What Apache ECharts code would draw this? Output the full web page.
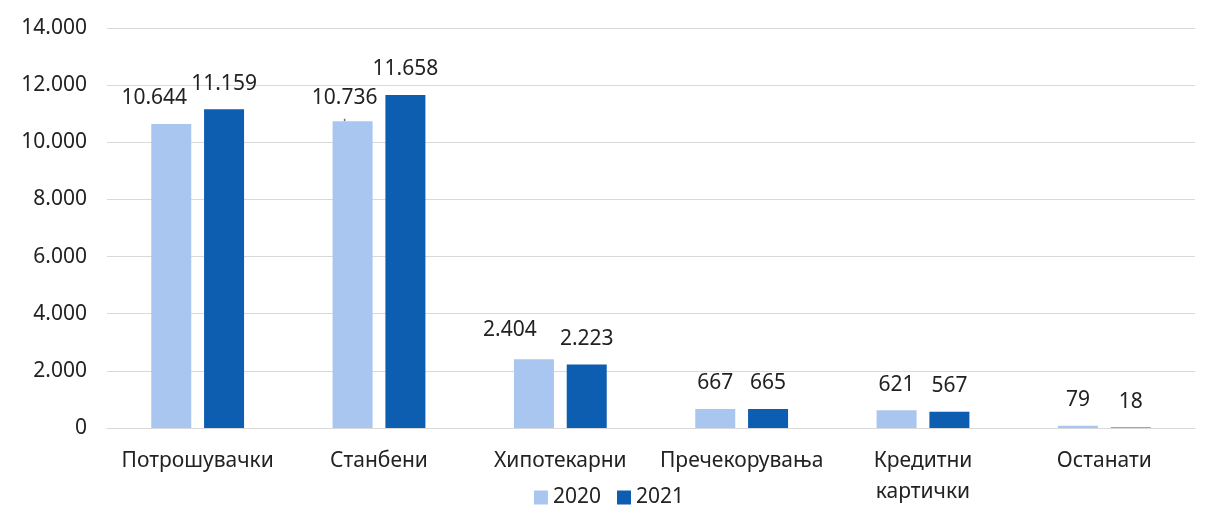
<!DOCTYPE html>
<html>
<head>
<meta charset="utf-8">
<script src="https://cdn.jsdelivr.net/npm/echarts@6/dist/echarts.min.js"></script>
<style>
  html, body { margin: 0; padding: 0; background: #fff; }
  #chart { width: 1218px; height: 531px; }
</style>
</head>
<body>
<div id="chart"></div>
<script>
// Loan categories (Macedonian)
const categories = ['Потрошувачки', 'Станбени', 'Хипотекарни', 'Пречекорувања', 'Кредитни\nкартички', 'Останати'];
const seriesNames = ['2020', '2021'];
const values2020 = [10644, 10736, 2404, 667, 621, 79];
const values2021 = [11159, 11658, 2223, 665, 567, 18];
const yTicks = [0, 2000, 4000, 6000, 8000, 10000, 12000, 14000];

const colors = ['#a9c6f1', '#0d5db0'];
const textColor = '#222222';
const fontFamily = '"Noto Sans", "Open Sans", sans-serif';
const fontSize = 21;

// thousands separated with a dot
function fmt(v) {
  return String(v).replace(/\B(?=(\d{3})+(?!\d))/g, '.');
}

// nudges for crowded labels (by category index), kept apart from the values
const labelShift2020 = { 0: [-17, 0], 1: [-8, 2], 2: [-24, -4] };
const withLeader2020 = { 1: true, 2: true };

function buildData(values, shifts, leaders) {
  return values.map((v, i) => {
    const item = { value: v };
    if (shifts && shifts[i]) item.label = { offset: shifts[i] };
    if (leaders && leaders[i]) item.labelLine = { show: true, lineStyle: { color: '#5f6f8f', width: 1.5 } };
    return item;
  });
}

const labelStyle = {
  show: true,
  position: 'top',
  distance: 15,
  color: textColor,
  fontSize: fontSize,
  fontFamily: fontFamily,
  formatter: p => fmt(p.value)
};

const chart = echarts.init(document.getElementById('chart'));
chart.setOption({
  animation: false,
  color: colors,
  grid: { left: 107, right: 23, top: 28, bottom: 103 },
  legend: {
    bottom: 18,
    left: 'center',
    itemWidth: 14,
    itemHeight: 14,
    itemGap: 16,
    icon: 'rect',
    textStyle: { color: textColor, fontSize: fontSize, fontFamily: fontFamily },
    data: seriesNames
  },
  xAxis: {
    type: 'category',
    data: categories,
    axisLine: { lineStyle: { color: '#d9d9d9', width: 1 } },
    axisTick: { show: false },
    axisLabel: {
      color: textColor,
      fontSize: fontSize,
      fontFamily: fontFamily,
      margin: 18,
      lineHeight: 31,
      interval: 0
    }
  },
  yAxis: {
    type: 'value',
    min: yTicks[0],
    max: yTicks[yTicks.length - 1],
    interval: yTicks[1] - yTicks[0],
    axisLine: { show: false },
    axisTick: { show: false },
    splitLine: { lineStyle: { color: '#d9d9d9', width: 1 } },
    axisLabel: {
      color: textColor,
      fontSize: fontSize,
      fontFamily: fontFamily,
      margin: 20,
      formatter: fmt
    }
  },
  series: [
    {
      name: seriesNames[0],
      type: 'bar',
      barWidth: 40,
      barGap: '32%',
      data: buildData(values2020, labelShift2020, withLeader2020),
      label: labelStyle
    },
    {
      name: seriesNames[1],
      type: 'bar',
      barWidth: 40,
      data: buildData(values2021),
      label: labelStyle
    }
  ]
});
</script>
</body>
</html>
